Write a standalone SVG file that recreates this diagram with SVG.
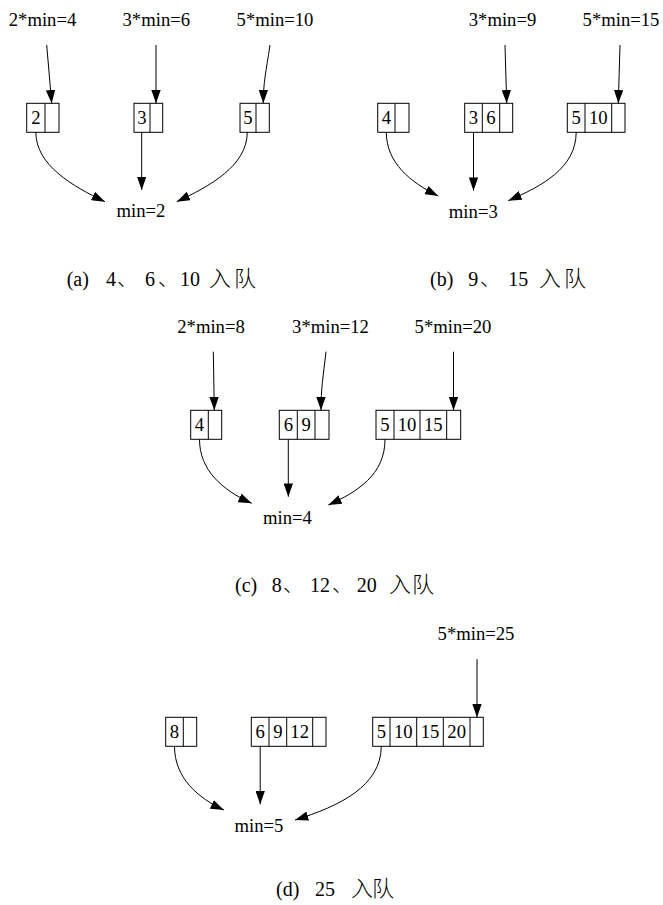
<svg xmlns="http://www.w3.org/2000/svg" width="663" height="905" viewBox="0 0 663 905">
<style>
.bg{fill:#fff}
.lbl{font-family:"Liberation Serif","Times New Roman",serif;font-size:18.67px;fill:#000;text-anchor:middle}
.rec rect{fill:none;stroke:#000;stroke-width:1}
.rec line{stroke:#000;stroke-width:1}
.cap{font-family:"Liberation Serif","Noto Sans CJK SC",serif;font-size:20px;fill:#000}
.cj{font-family:"Noto Sans CJK SC",sans-serif;font-size:22px;font-weight:300}
.dn{font-family:"Noto Sans CJK SC",sans-serif;font-size:20px;font-weight:300}
#connectors path{fill:none;stroke:#000;stroke-width:1;marker-end:url(#ah)}
</style>
<defs>
<marker id="ah" markerUnits="userSpaceOnUse" markerWidth="13.3" markerHeight="9.4" viewBox="0 0 13.3 9.34" refX="13.3" refY="4.67" orient="auto">
<path d="M0,0 L13.3,4.67 L0,9.34 Z" fill="#000"/>
</marker>
</defs>
<rect class="bg" x="0" y="0" width="663" height="905"/>

<!-- (a) -->
<g id="a_l2"><text class="lbl" x="42.5" y="26">2*min=4</text></g>
<g id="a_l3"><text class="lbl" x="156.3" y="26">3*min=6</text></g>
<g id="a_l5"><text class="lbl" x="275" y="26">5*min=10</text></g>
<g id="a_q2" class="rec"><rect x="26.7" y="103.3" width="32.3" height="29"/><line x1="45" y1="103.3" x2="45" y2="132.3"/><text class="lbl" x="35.8" y="123.5">2</text></g>
<g id="a_q3" class="rec"><rect x="134" y="103.3" width="28.7" height="29"/><line x1="150" y1="103.3" x2="150" y2="132.3"/><text class="lbl" x="142" y="123.5">3</text></g>
<g id="a_q5" class="rec"><rect x="240" y="103.3" width="29.3" height="29"/><line x1="256" y1="103.3" x2="256" y2="132.3"/><text class="lbl" x="248" y="123.5">5</text></g>
<g id="a_min"><text class="lbl" x="141" y="216.5">min=2</text></g>

<!-- (b) -->
<g id="b_l3"><text class="lbl" x="502.5" y="26">3*min=9</text></g>
<g id="b_l5"><text class="lbl" x="621" y="26">5*min=15</text></g>
<g id="b_q2" class="rec"><rect x="377.7" y="103.3" width="31.3" height="29"/><line x1="395" y1="103.3" x2="395" y2="132.3"/><text class="lbl" x="386.3" y="123.5">4</text></g>
<g id="b_q3" class="rec"><rect x="464.7" y="103.3" width="48" height="29"/><line x1="482.3" y1="103.3" x2="482.3" y2="132.3"/><line x1="499.7" y1="103.3" x2="499.7" y2="132.3"/><text class="lbl" x="473.5" y="123.5">3</text><text class="lbl" x="491" y="123.5">6</text></g>
<g id="b_q5" class="rec"><rect x="567.3" y="103.3" width="57.7" height="29"/><line x1="585" y1="103.3" x2="585" y2="132.3"/><line x1="611.7" y1="103.3" x2="611.7" y2="132.3"/><text class="lbl" x="576.2" y="123.5">5</text><text class="lbl" x="598.3" y="123.5">10</text></g>
<g id="b_min"><text class="lbl" x="473.3" y="217.5">min=3</text></g>

<!-- (c) -->
<g id="c_l2"><text class="lbl" x="211" y="332.7">2*min=8</text></g>
<g id="c_l3"><text class="lbl" x="330.5" y="332.7">3*min=12</text></g>
<g id="c_l5"><text class="lbl" x="453" y="332.7">5*min=20</text></g>
<g id="c_q2" class="rec"><rect x="190.7" y="410.3" width="31" height="29"/><line x1="208.3" y1="410.3" x2="208.3" y2="439.3"/><text class="lbl" x="199.5" y="430.8">4</text></g>
<g id="c_q3" class="rec"><rect x="279.3" y="410.3" width="49.7" height="29"/><line x1="297.3" y1="410.3" x2="297.3" y2="439.3"/><line x1="315" y1="410.3" x2="315" y2="439.3"/><text class="lbl" x="288.3" y="430.8">6</text><text class="lbl" x="306.2" y="430.8">9</text></g>
<g id="c_q5" class="rec"><rect x="376" y="410.3" width="84.7" height="29"/><line x1="394" y1="410.3" x2="394" y2="439.3"/><line x1="420" y1="410.3" x2="420" y2="439.3"/><line x1="446.7" y1="410.3" x2="446.7" y2="439.3"/><text class="lbl" x="385" y="430.8">5</text><text class="lbl" x="407" y="430.8">10</text><text class="lbl" x="433.3" y="430.8">15</text></g>
<g id="c_min"><text class="lbl" x="287.5" y="524.3">min=4</text></g>

<!-- (d) -->
<g id="d_l5"><text class="lbl" x="476" y="640">5*min=25</text></g>
<g id="d_q2" class="rec"><rect x="165.7" y="717.3" width="31" height="29"/><line x1="183.3" y1="717.3" x2="183.3" y2="746.3"/><text class="lbl" x="174.5" y="737.8">8</text></g>
<g id="d_q3" class="rec"><rect x="251.3" y="717.3" width="74.7" height="29"/><line x1="269" y1="717.3" x2="269" y2="746.3"/><line x1="286.7" y1="717.3" x2="286.7" y2="746.3"/><line x1="312.7" y1="717.3" x2="312.7" y2="746.3"/><text class="lbl" x="260.2" y="737.8">6</text><text class="lbl" x="277.8" y="737.8">9</text><text class="lbl" x="299.7" y="737.8">12</text></g>
<g id="d_q5" class="rec"><rect x="372.7" y="717.3" width="110.6" height="29"/><line x1="390" y1="717.3" x2="390" y2="746.3"/><line x1="416.7" y1="717.3" x2="416.7" y2="746.3"/><line x1="443.3" y1="717.3" x2="443.3" y2="746.3"/><line x1="470" y1="717.3" x2="470" y2="746.3"/><text class="lbl" x="381.3" y="737.8">5</text><text class="lbl" x="403.3" y="737.8">10</text><text class="lbl" x="430" y="737.8">15</text><text class="lbl" x="456.7" y="737.8">20</text></g>
<g id="d_min"><text class="lbl" x="259" y="831.7">min=5</text></g>

<g id="connectors">
<!-- a -->
<path d="M46.7,45 L51.7,103.3"/>
<path d="M156,45 L156,103.3"/>
<path d="M270,45 C266,72 263.3,82 263.3,103.3"/>
<path d="M35.8,132.3 C36,165 72,186 105,201.7"/>
<path d="M141.7,132.3 L141.7,190"/>
<path d="M247.3,132.3 C247,166 210,186 176.7,201.7"/>
<!-- b -->
<path d="M505,45 L506.7,103.3"/>
<path d="M620,45 L618.3,103.3"/>
<path d="M386.3,132.3 C386.5,163 410,182 438.3,196"/>
<path d="M473.5,132.3 L473.5,190.7"/>
<path d="M576.2,132.3 C576,168 542,186 508.3,200.7"/>
<!-- c -->
<path d="M213.3,351.7 L214.3,410.3"/>
<path d="M326,351.7 C323,378 321,388 321,410.3"/>
<path d="M453.5,351.7 L453.5,410.3"/>
<path d="M199.5,439.3 C199.5,470 222,490 251.7,503.3"/>
<path d="M288.3,439.3 L288.3,496.7"/>
<path d="M385,439.3 C385,475 357,492 328.3,505"/>
<!-- d -->
<path d="M477,659.3 L477,717.3"/>
<path d="M174.5,746.3 C174.5,778 198,798 224,810"/>
<path d="M260.2,746.3 L260.2,804.3"/>
<path d="M381.3,746.3 C381,786 340,806 295,820"/>
</g>

<g id="captions">
<text class="cap" y="286"><tspan x="66.7">(a) </tspan><tspan x="106">4</tspan><tspan class="dn" x="117">、</tspan><tspan x="145">6</tspan><tspan class="dn" x="158">、</tspan><tspan x="180">10 </tspan><tspan class="cj" x="209">入</tspan><tspan class="cj" x="234">队</tspan></text>
<text class="cap" y="286"><tspan x="430">(b) </tspan><tspan x="468.3">9</tspan><tspan class="dn" x="480">、</tspan><tspan x="508.3">15 </tspan><tspan class="cj" x="539">入</tspan><tspan class="cj" x="564">队</tspan></text>
<text class="cap" y="592"><tspan x="235">(c) </tspan><tspan x="271.7">8</tspan><tspan class="dn" x="283">、</tspan><tspan x="310">12</tspan><tspan class="dn" x="332">、</tspan><tspan x="356.7">20 </tspan><tspan class="cj" x="389">入</tspan><tspan class="cj" x="412">队</tspan></text>
<text class="cap" y="896"><tspan x="276">(d) </tspan><tspan x="315">25 </tspan><tspan class="cj" x="351">入</tspan><tspan class="cj" x="372">队</tspan></text>
</g>
</svg>
